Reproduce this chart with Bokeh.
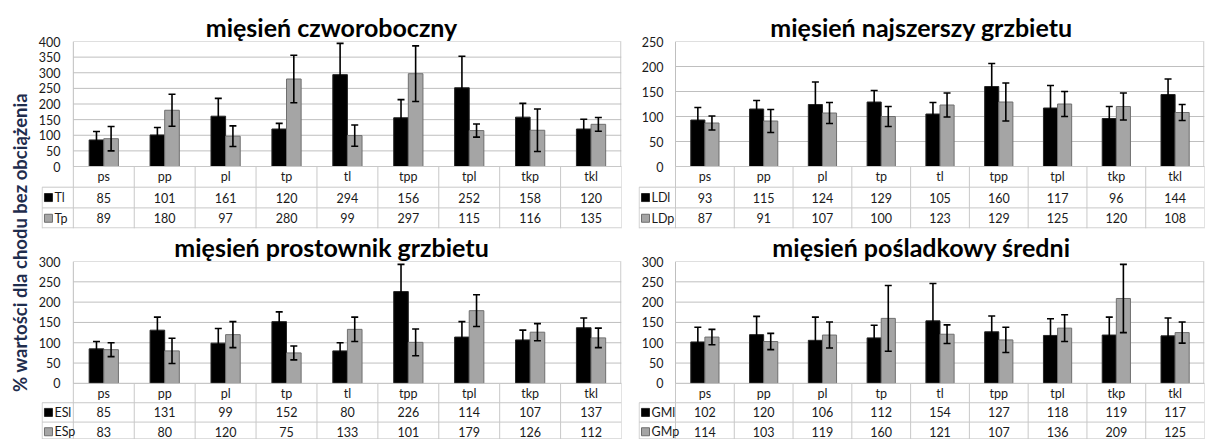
import math
import numpy as np
from bokeh.plotting import figure
from bokeh.layouts import row, column
from bokeh.models import Range1d, ColumnDataSource, Whisker, TeeHead, Title, FixedTicker
from bokeh.embed import file_html
from bokeh.resources import INLINE
from bokeh.core.properties import value

# ---------------- data ----------------
categories = ["ps", "pp", "pl", "tp", "tl", "tpp", "tpl", "tkp", "tkl"]

y_label = "% wartości dla chodu bez obciążenia"

title_trap = "mięsień czworoboczny"
names_trap = ["Tl", "Tp"]
trap_l = [85, 101, 161, 120, 294, 156, 252, 158, 120]
trap_p = [89, 180, 97, 280, 99, 297, 115, 116, 135]
trap_l_err = [27, 24, 57, 18, 100, 58, 101, 44, 31]
trap_p_err = [39, 51, 33, 76, 34, 89, 21, 68, 22]
trap_ymax = 400

title_lat = "mięsień najszerszy grzbietu"
names_lat = ["LDl", "LDp"]
lat_l = [93, 115, 124, 129, 105, 160, 117, 96, 144]
lat_p = [87, 91, 107, 100, 123, 129, 125, 120, 108]
lat_l_err = [25, 17, 45, 23, 23, 46, 45, 24, 31]
lat_p_err = [14, 23, 21, 20, 24, 38, 25, 27, 16]
lat_ymax = 250

title_es = "mięsień prostownik grzbietu"
names_es = ["ESl", "ESp"]
es_l = [85, 131, 99, 152, 80, 226, 114, 107, 137]
es_p = [83, 80, 120, 75, 133, 101, 179, 126, 112]
es_l_err = [18, 32, 36, 24, 20, 67, 38, 24, 24]
es_p_err = [17, 31, 32, 17, 30, 33, 39, 21, 24]
es_ymax = 300

title_gm = "mięsień pośladkowy średni"
names_gm = ["GMl", "GMp"]
gm_l = [102, 120, 106, 112, 154, 127, 118, 119, 117]
gm_p = [114, 103, 119, 160, 121, 107, 136, 209, 125]
gm_l_err = [36, 45, 57, 31, 92, 39, 41, 44, 44]
gm_p_err = [19, 20, 32, 81, 23, 31, 33, 84, 26]
gm_ymax = 300

# ---------------- style ----------------
FONT = "Lato"
BLACK_FILL = "#000000"
BLACK_LINE = "#262626"
GRAY_FILL = "#a5a5a5"
GRAY_LINE = "#6f6f6f"
GRID = "#bfbfbf"
TABLE_LINE = "#c8c8c8"
TEXT = "#1a1a1a"
FS = "12.5px"


def panel(title, names, vl, vp, el, ep, ymax, geo):
    # page-pixel geometry: panel left/right/top/bottom, frame (=table) left, plot-area left,
    # frame right, frame top, zero line, frame bottom, row height, tick-label right edge, title offset
    (pl_, pr_, pt_, pb_, fl, zx, fr, ft, zy, fb, row_px, lab_r, title_off) = geo
    n = len(categories)
    unit = (fr - zx) / n                 # px per category
    leg = (zx - fl) / unit               # legend column width (data units)
    k = ymax / (zy - ft)                 # data units per px (vertical)
    row_h = row_px * k
    ybot = -(fb - zy) * k
    xs = np.arange(n) + 0.5
    off = 0.12
    ticks = list(range(0, ymax + 1, 50))

    p = figure(width=pr_ - pl_, height=pb_ - pt_, output_backend="svg", toolbar_location=None,
               x_range=Range1d(-leg, n), y_range=Range1d(ybot, ymax),
               min_border_left=fl - pl_, min_border_right=pr_ - fr,
               min_border_top=ft - pt_, min_border_bottom=pb_ - fb,
               x_axis_type=None)
    p.outline_line_color = None
    p.background_fill_color = "white"
    p.border_fill_color = "white"
    p.xgrid.visible = False
    p.ygrid.visible = False
    p.yaxis.ticker = FixedTicker(ticks=ticks)
    p.yaxis.axis_line_color = None
    p.yaxis.major_tick_line_color = None
    p.yaxis.minor_tick_line_color = None
    p.yaxis.major_tick_in = 0
    p.yaxis.major_tick_out = 0
    p.yaxis.major_label_standoff = -(lab_r - fl)
    p.yaxis.major_label_text_font = FONT
    p.yaxis.major_label_text_font_size = FS
    p.yaxis.major_label_text_color = TEXT

    t = Title(text=title, align="center", offset=title_off, text_font=FONT,
              text_font_size="25px", text_font_style="bold", text_color="#000000",
              standoff=0)
    p.add_layout(t, "above")

    # horizontal grid lines of the plot area (at the axis ticks)
    p.segment(x0=[0.0] * len(ticks), y0=ticks, x1=[float(n)] * len(ticks), y1=ticks,
              line_color=GRID, line_width=1)

    # bars + error bars
    src_l = ColumnDataSource(dict(x=xs - off, top=vl,
                                  upper=[v + e for v, e in zip(vl, el)],
                                  lower=[v - e for v, e in zip(vl, el)]))
    src_p = ColumnDataSource(dict(x=xs + off, top=vp,
                                  upper=[v + e for v, e in zip(vp, ep)],
                                  lower=[v - e for v, e in zip(vp, ep)]))
    p.vbar(x="x", top="top", bottom=0, width=0.24, source=src_l, fill_color=BLACK_FILL,
           line_color=BLACK_LINE, line_width=1)
    p.vbar(x="x", top="top", bottom=0, width=0.24, source=src_p, fill_color=GRAY_FILL,
           line_color=GRAY_LINE, line_width=1)
    for src in (src_l, src_p):
        w = Whisker(base="x", upper="upper", lower="lower", source=src,
                    line_color="black", line_width=1.6, level="annotation",
                    upper_head=TeeHead(size=7, line_width=1.6, line_color="black"),
                    lower_head=TeeHead(size=7, line_width=1.6, line_color="black"))
        p.add_layout(w)

    # ---- data table below the bars ----
    x_in = -leg + 0.6 / unit             # left border of legend column, kept inside frame
    y_in = ybot + 0.6 * k                # bottom border, kept inside frame
    hx0 = [0.0, x_in, x_in, x_in]
    hy = [0.0, -row_h, -2 * row_h, max(-3 * row_h, y_in)]
    p.segment(x0=hx0, y0=hy, x1=[float(n)] * 4, y1=hy, line_color=TABLE_LINE, line_width=1)
    vx = [float(i) for i in range(0, n + 1)]
    p.segment(x0=vx, y0=[0.0] * len(vx), x1=vx, y1=[ybot] * len(vx),
              line_color=TABLE_LINE, line_width=1)
    p.segment(x0=[x_in], y0=[-row_h], x1=[x_in], y1=[ybot], line_color=TABLE_LINE, line_width=1)
    # plot-area frame (left axis line above the table, right edge, top)
    p.segment(x0=[0.0, float(n) - 0.6 / unit], y0=[0.0, 0.0],
              x1=[0.0, float(n) - 0.6 / unit], y1=[float(ymax)] * 2,
              line_color=GRID, line_width=1)

    for j, txt in enumerate([categories, [str(v) for v in vl], [str(v) for v in vp]]):
        p.text(x=list(xs), y=[-(j + 0.5) * row_h] * n, text=txt, text_align="center",
               text_baseline="middle", text_font=value(FONT), text_font_size=FS,
               text_color=TEXT)

    yc = [-1.5 * row_h, -2.5 * row_h]
    p.scatter(x=[-leg + 7.0 / unit] * 2, y=yc, marker="square", size=8,
              fill_color=[BLACK_FILL, GRAY_FILL], line_color=[BLACK_LINE, GRAY_LINE])
    p.text(x=[-leg + 13.0 / unit] * 2, y=yc, text=names, text_align="left",
           text_baseline="middle", text_font=value(FONT), text_font_size=FS,
           text_color=TEXT)
    return p


# page-pixel geometry
geo_a = (35, 628, 0, 229, 38, 70, 621, 41, 166, 228, 20.7, 57, 2)
geo_b = (628, 1205, 0, 229, 638, 675, 1204, 41, 166, 228, 20.7, 663, 12)
geo_c = (35, 628, 229, 439, 38, 70, 621, 255, 381, 439, 20.0, 57, 2)
geo_d = (628, 1205, 229, 439, 638, 675, 1204, 255, 381, 439, 20.0, 663, 10)

pa = panel(title_trap, names_trap, trap_l, trap_p, trap_l_err, trap_p_err, trap_ymax, geo_a)
pb = panel(title_lat, names_lat, lat_l, lat_p, lat_l_err, lat_p_err, lat_ymax, geo_b)
pc = panel(title_es, names_es, es_l, es_p, es_l_err, es_p_err, es_ymax, geo_c)
pd = panel(title_gm, names_gm, gm_l, gm_p, gm_l_err, gm_p_err, gm_ymax, geo_d)

LW = 35
lab = figure(width=LW, height=439, output_backend="svg", toolbar_location=None,
             x_range=Range1d(0, 1), y_range=Range1d(0, 1), min_border=0,
             x_axis_type=None, y_axis_type=None)
lab.outline_line_color = None
lab.xgrid.visible = False
lab.ygrid.visible = False
lab.text(x=[19 / LW], y=[1 - 242 / 439], text=[y_label], angle=math.pi / 2, text_align="center",
         text_baseline="middle", text_font=value(FONT), text_font_size="18.5px",
         text_font_style="bold", text_color="#1f2d4d")

layout = row(lab, column(row(pa, pb, spacing=0), row(pc, pd, spacing=0), spacing=0), spacing=0)

open("out.html", "w").write(file_html(layout, INLINE))
